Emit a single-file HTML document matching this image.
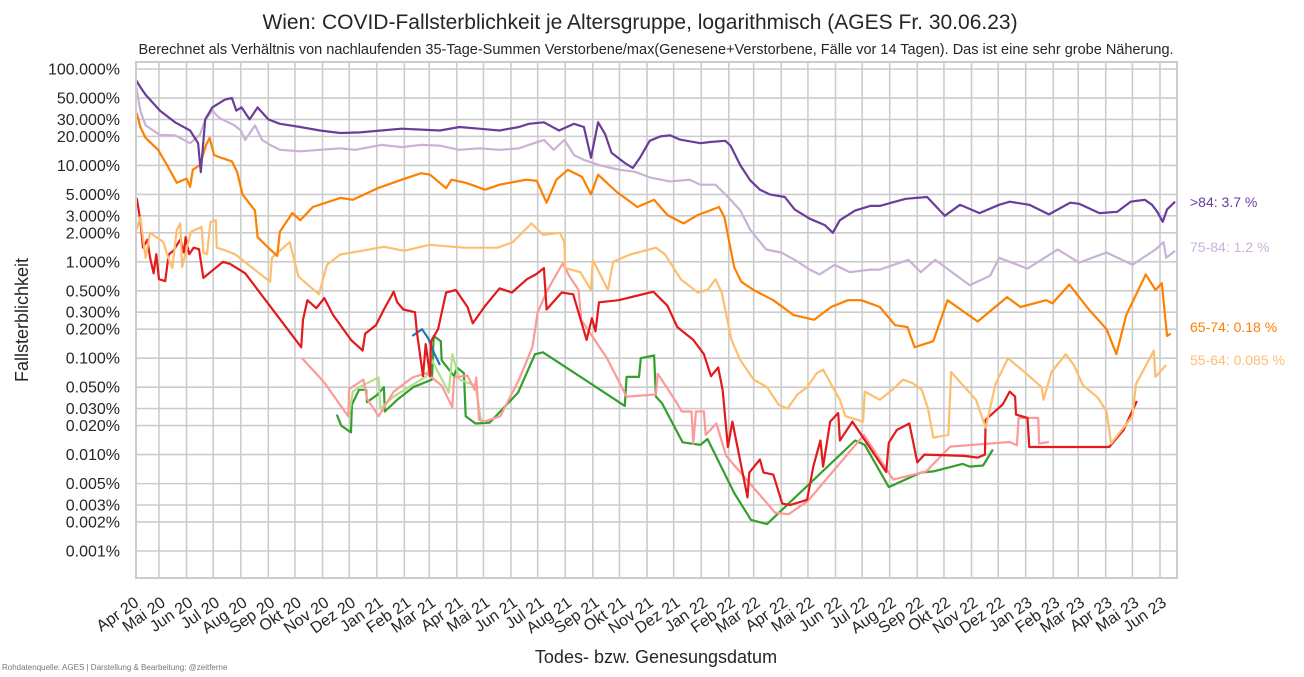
<!DOCTYPE html>
<html><head><meta charset="utf-8">
<style>
html,body{margin:0;padding:0;background:#fff;}
svg{display:block;font-family:"Liberation Sans",Arial,sans-serif;}
</style></head>
<body>
<svg id="chart" width="1304" height="677" viewBox="0 0 1304 677" xmlns="http://www.w3.org/2000/svg">
<rect x="0" y="0" width="1304" height="677" fill="#fff"/>
<text x="640" y="29" text-anchor="middle" font-size="21" fill="#262626">Wien: COVID-Fallsterblichkeit je Altersgruppe, logarithmisch (AGES Fr. 30.06.23)</text>
<text x="656" y="54" text-anchor="middle" font-size="14.5" fill="#262626">Berechnet als Verhältnis von nachlaufenden 35-Tage-Summen Verstorbene/max(Genesene+Verstorbene, Fälle vor 14 Tagen). Das ist eine sehr grobe Näherung.</text>
<g id="grid"></g>
<g id="yticks"></g>
<g id="xticks"></g>
<g id="series"></g>
<rect x="136" y="62" width="1041" height="516" fill="none" stroke="#cccccc" stroke-width="2"/>
<text transform="translate(28,320) rotate(-90)" text-anchor="middle" font-size="18" fill="#262626">Fallsterblichkeit</text>
<text x="656" y="663" text-anchor="middle" font-size="18" fill="#262626">Todes- bzw. Genesungsdatum</text>
<text x="2" y="670" font-size="8" fill="#777">Rohdatenquelle: AGES | Darstellung &amp; Bearbeitung: @zeitferne</text>
<g id="endlabels"></g>
</svg>
<script>
const yTicks = [100,50,30,20,10,5,3,2,1,0.5,0.3,0.2,0.1,0.05,0.03,0.02,0.01,0.005,0.003,0.002,0.001];
const monthLabels = ["Apr 20","Mai 20","Jun 20","Jul 20","Aug 20","Sep 20","Okt 20","Nov 20","Dez 20","Jan 21","Feb 21","Mar 21","Apr 21","Mai 21","Jun 21","Jul 21","Aug 21","Sep 21","Okt 21","Nov 21","Dez 21","Jan 22","Feb 22","Mar 22","Apr 22","Mai 22","Jun 22","Jul 22","Aug 22","Sep 22","Okt 22","Nov 22","Dez 22","Jan 23","Feb 23","Mar 23","Apr 23","Mai 23","Jun 23"];
const monthDates = ["2020-04-01","2020-05-01","2020-06-01","2020-07-01","2020-08-01","2020-09-01","2020-10-01","2020-11-01","2020-12-01","2021-01-01","2021-02-01","2021-03-01","2021-04-01","2021-05-01","2021-06-01","2021-07-01","2021-08-01","2021-09-01","2021-10-01","2021-11-01","2021-12-01","2022-01-01","2022-02-01","2022-03-01","2022-04-01","2022-05-01","2022-06-01","2022-07-01","2022-08-01","2022-09-01","2022-10-01","2022-11-01","2022-12-01","2023-01-01","2023-02-01","2023-03-01","2023-04-01","2023-05-01","2023-06-01"];

const d84 = ["2020-04-05","2020-04-10","2020-04-16","2020-05-02","2020-05-19","2020-06-05","2020-06-14","2020-06-17","2020-06-22","2020-06-30","2020-07-14","2020-07-22","2020-07-27","2020-08-02","2020-08-11","2020-08-20","2020-09-01","2020-09-14","2020-10-07","2020-10-29","2020-11-21","2020-12-13","2021-01-06","2021-01-29","2021-02-20","2021-03-13","2021-04-04","2021-04-26","2021-05-19","2021-06-10","2021-06-21","2021-07-08","2021-07-25","2021-08-11","2021-08-22","2021-08-30","2021-09-07","2021-09-15","2021-09-22","2021-10-07","2021-10-16","2021-10-24","2021-11-04","2021-11-16","2021-11-27","2021-12-08","2021-12-31","2022-01-11","2022-01-28","2022-02-03","2022-02-14","2022-02-25","2022-03-08","2022-03-19","2022-04-05","2022-04-16","2022-05-03","2022-05-20","2022-05-29","2022-06-06","2022-06-23","2022-07-10","2022-07-21","2022-08-07","2022-08-19","2022-09-12","2022-10-02","2022-10-19","2022-11-10","2022-12-02","2022-12-14","2023-01-05","2023-01-27","2023-02-20","2023-03-02","2023-03-25","2023-04-14","2023-04-29","2023-05-15","2023-05-23","2023-05-29","2023-06-04","2023-06-09","2023-06-18"];
const v84 = [77,65,54,37,28,23,17,8.5,30,40,48,50,37,40,30,40,30,27,25,23,21.7,22,23,24,23.5,23,25,24,23,25,27,28,23,27,25,12,28,21,13.5,10.6,9.4,12,18,20,20.5,18.5,17,17.5,18,16,10,7,5.6,5,4.7,3.5,2.8,2.4,2.0,2.7,3.4,3.8,3.8,4.2,4.5,4.7,3.0,3.9,3.2,3.9,4.2,3.9,3.1,4.1,4.0,3.2,3.3,4.2,4.4,3.9,3.3,2.6,3.5,4.2];

const d7584 = ["2020-04-05","2020-04-10","2020-04-16","2020-05-02","2020-05-19","2020-06-05","2020-06-16","2020-06-22","2020-06-30","2020-07-08","2020-07-25","2020-08-01","2020-08-06","2020-08-17","2020-08-25","2020-09-03","2020-09-14","2020-10-07","2020-10-29","2020-11-21","2020-12-08","2021-01-06","2021-01-29","2021-02-20","2021-03-13","2021-04-04","2021-04-26","2021-05-19","2021-06-10","2021-06-21","2021-07-08","2021-07-19","2021-07-31","2021-08-11","2021-08-22","2021-09-08","2021-10-01","2021-10-18","2021-11-04","2021-11-27","2021-12-19","2021-12-31","2022-01-17","2022-01-28","2022-02-03","2022-02-14","2022-02-25","2022-03-15","2022-04-01","2022-04-16","2022-05-03","2022-05-14","2022-05-31","2022-06-17","2022-07-10","2022-07-21","2022-08-22","2022-09-05","2022-09-21","2022-10-30","2022-11-22","2022-12-02","2023-01-03","2023-02-06","2023-03-02","2023-04-02","2023-05-01","2023-05-27","2023-06-05","2023-06-08","2023-06-18"];
const v7584 = [68,37,26,20.7,20.5,17,20.7,29.6,37,31,26,23,18.4,26,18.4,16.3,14.5,14,14.5,15,14.5,16.3,15.5,16.3,16,14.5,15,14.5,15,16.3,18.4,14.5,18.4,12.8,11.4,10.1,9,8.6,7.5,6.8,7.1,6.3,6.3,5.0,4.4,3.4,2.15,1.34,1.25,1.05,0.83,0.74,0.93,0.78,0.83,0.83,1.05,0.78,1.05,0.57,0.72,1.1,0.85,1.34,0.98,1.25,0.93,1.34,1.6,1.1,1.3];

const d6574 = ["2020-04-06","2020-04-10","2020-04-16","2020-04-30","2020-05-10","2020-05-21","2020-06-01","2020-06-05","2020-06-08","2020-06-16","2020-06-23","2020-06-27","2020-07-02","2020-07-11","2020-07-22","2020-07-28","2020-08-03","2020-08-17","2020-08-20","2020-08-31","2020-09-11","2020-09-14","2020-09-28","2020-10-07","2020-10-21","2020-11-21","2020-12-05","2021-01-02","2021-01-29","2021-02-20","2021-03-02","2021-03-20","2021-03-26","2021-04-11","2021-05-03","2021-05-19","2021-06-18","2021-06-30","2021-07-11","2021-07-22","2021-08-04","2021-08-20","2021-08-30","2021-09-07","2021-09-28","2021-10-21","2021-11-09","2021-11-24","2021-12-12","2021-12-28","2022-01-21","2022-01-27","2022-02-07","2022-02-15","2022-03-01","2022-03-23","2022-04-15","2022-05-08","2022-05-27","2022-06-15","2022-06-30","2022-07-21","2022-08-07","2022-08-21","2022-08-29","2022-09-19","2022-10-05","2022-11-08","2022-12-11","2022-12-26","2023-01-24","2023-01-31","2023-02-19","2023-03-13","2023-04-02","2023-04-13","2023-04-24","2023-05-16","2023-05-27","2023-06-03","2023-06-09","2023-06-13"];
const v6574 = [35,25,19.3,14.5,10.1,6.6,7.3,6.0,9.0,10.1,16.3,19.3,12.8,11.9,11,8.5,5.0,3.4,1.8,1.43,1.15,2.05,3.2,2.7,3.7,4.6,4.4,5.8,7.1,8.3,8.0,5.8,7.1,6.6,5.6,6.3,7.1,6.9,4.1,7.1,9.0,7.6,5.0,8.0,5.3,3.7,4.4,3.05,2.5,3.05,3.7,2.9,0.88,0.62,0.51,0.40,0.28,0.25,0.34,0.40,0.40,0.34,0.22,0.21,0.13,0.15,0.40,0.24,0.43,0.34,0.40,0.37,0.58,0.32,0.2,0.11,0.28,0.74,0.51,0.60,0.17,0.18];

const d5564 = ["2020-04-06","2020-04-10","2020-04-16","2020-04-21","2020-05-06","2020-05-10","2020-05-16","2020-05-21","2020-05-25","2020-05-27","2020-06-06","2020-06-18","2020-06-20","2020-06-24","2020-06-28","2020-07-04","2020-07-05","2020-07-16","2020-07-26","2020-09-03","2020-09-05","2020-09-25","2020-10-05","2020-10-28","2020-11-06","2020-11-21","2020-12-15","2021-01-09","2021-02-01","2021-03-01","2021-04-09","2021-05-17","2021-06-03","2021-06-24","2021-07-07","2021-07-26","2021-07-31","2021-08-01","2021-08-18","2021-08-30","2021-09-01","2021-09-18","2021-09-24","2021-10-13","2021-11-11","2021-11-21","2021-12-09","2021-12-28","2022-01-08","2022-01-17","2022-01-24","2022-02-04","2022-02-14","2022-03-01","2022-03-16","2022-03-29","2022-04-08","2022-04-19","2022-04-30","2022-05-11","2022-05-18","2022-05-29","2022-06-06","2022-06-12","2022-07-02","2022-07-04","2022-07-21","2022-08-04","2022-08-16","2022-08-27","2022-09-06","2022-09-13","2022-09-19","2022-10-06","2022-10-09","2022-11-06","2022-11-17","2022-11-28","2022-12-12","2023-01-05","2023-01-19","2023-01-21","2023-01-30","2023-02-15","2023-02-24","2023-03-06","2023-03-23","2023-04-02","2023-04-07","2023-05-01","2023-05-05","2023-05-25","2023-05-27","2023-06-08"];
const v5564 = [2.15,2.9,1.1,2.0,1.6,1.2,0.86,2.15,2.5,0.88,2.05,2.3,1.25,1.2,2.6,2.7,1.4,1.3,1.19,0.62,1.1,1.6,0.7,0.46,0.93,1.19,1.3,1.43,1.3,1.5,1.4,1.4,1.6,2.5,1.9,2.0,1.6,0.86,0.78,0.51,1.05,0.51,1.0,1.19,1.4,1.2,0.66,0.48,0.51,0.66,0.48,0.155,0.095,0.06,0.05,0.033,0.03,0.042,0.05,0.07,0.076,0.05,0.037,0.025,0.022,0.045,0.037,0.047,0.06,0.055,0.047,0.03,0.015,0.016,0.072,0.037,0.019,0.054,0.1,0.065,0.05,0.037,0.072,0.11,0.085,0.053,0.039,0.028,0.013,0.025,0.054,0.12,0.064,0.085];

const d4554 = ["2020-04-06","2020-04-10","2020-04-13","2020-04-18","2020-04-21","2020-04-25","2020-04-28","2020-05-01","2020-05-08","2020-05-12","2020-05-17","2020-05-25","2020-05-29","2020-05-31","2020-06-04","2020-06-09","2020-06-15","2020-06-20","2020-07-12","2020-07-20","2020-08-06","2020-10-08","2020-10-10","2020-10-15","2020-10-25","2020-11-03","2020-11-13","2020-12-03","2020-12-16","2020-12-19","2020-12-31","2021-01-09","2021-01-20","2021-01-24","2021-01-31","2021-02-13","2021-02-15","2021-02-22","2021-02-25","2021-03-02","2021-03-03","2021-03-11","2021-03-20","2021-03-31","2021-04-13","2021-04-19","2021-05-03","2021-05-19","2021-06-02","2021-06-19","2021-06-29","2021-07-08","2021-07-11","2021-07-28","2021-08-10","2021-08-25","2021-08-31","2021-09-04","2021-09-08","2021-09-30","2021-11-08","2021-11-24","2021-12-05","2021-12-23","2022-01-04","2022-01-12","2022-01-20","2022-01-25","2022-01-31","2022-02-05","2022-02-22","2022-02-24","2022-03-08","2022-03-12","2022-03-23","2022-04-02","2022-04-11","2022-04-30","2022-05-07","2022-05-15","2022-05-18","2022-05-26","2022-06-04","2022-06-06","2022-06-20","2022-07-28","2022-07-31","2022-08-09","2022-08-23","2022-08-26","2022-09-01","2022-09-09","2022-10-24","2022-11-08","2022-11-16","2022-11-17","2022-12-06","2022-12-14","2022-12-20","2022-12-21","2023-01-03","2023-01-05","2023-01-16","2023-04-05","2023-04-21","2023-05-06"];
const v4554 = [4.6,2.7,1.4,1.7,1.1,0.76,1.2,0.66,0.63,1.19,1.3,1.7,1.25,1.8,1.2,1.4,1.35,0.68,1.0,0.95,0.76,0.13,0.25,0.40,0.33,0.42,0.28,0.155,0.12,0.18,0.22,0.32,0.49,0.38,0.32,0.3,0.19,0.065,0.14,0.065,0.15,0.2,0.48,0.51,0.34,0.23,0.35,0.53,0.48,0.66,0.74,0.86,0.32,0.48,0.46,0.155,0.26,0.19,0.38,0.40,0.49,0.35,0.21,0.155,0.11,0.065,0.08,0.047,0.012,0.022,0.0036,0.0065,0.0089,0.0065,0.0062,0.0031,0.003,0.0034,0.0075,0.014,0.0075,0.022,0.027,0.014,0.022,0.0066,0.0133,0.018,0.021,0.0155,0.0083,0.01,0.0097,0.0093,0.01,0.023,0.033,0.045,0.04,0.026,0.024,0.012,0.012,0.012,0.018,0.036];

const d3544 = ["2020-10-09","2020-11-03","2020-11-26","2020-11-30","2020-12-01","2020-12-12","2020-12-17","2020-12-21","2021-01-03","2021-01-20","2021-02-10","2021-02-26","2021-03-15","2021-03-27","2021-03-29","2021-04-13","2021-04-21","2021-04-23","2021-04-26","2021-05-02","2021-05-20","2021-06-10","2021-06-25","2021-07-01","2021-07-12","2021-07-29","2021-08-06","2021-08-16","2021-08-19","2021-09-17","2021-10-09","2021-11-11","2021-11-13","2021-12-04","2021-12-10","2021-12-21","2021-12-23","2021-12-26","2022-01-04","2022-01-06","2022-01-18","2022-01-29","2022-03-25","2022-04-09","2022-05-01","2022-07-03","2022-08-05","2022-09-11","2022-10-08","2022-12-14","2022-12-22","2022-12-24","2023-01-15","2023-01-16","2023-01-27"];
const v3544 = [0.1,0.056,0.028,0.025,0.048,0.056,0.06,0.038,0.025,0.045,0.063,0.07,0.052,0.031,0.063,0.066,0.047,0.063,0.023,0.022,0.025,0.06,0.13,0.3,0.51,0.96,0.7,0.51,0.25,0.1,0.04,0.042,0.069,0.035,0.028,0.028,0.013,0.028,0.028,0.016,0.021,0.0097,0.0025,0.0024,0.0033,0.016,0.0055,0.0067,0.0121,0.0135,0.0125,0.024,0.024,0.013,0.0135];

const d2534 = ["2020-11-17","2020-11-22","2020-12-03","2020-12-04","2020-12-12","2020-12-20","2020-12-21","2021-01-02","2021-01-09","2021-01-10","2021-01-24","2021-02-11","2021-03-04","2021-03-06","2021-03-14","2021-03-15","2021-03-29","2021-04-01","2021-04-09","2021-04-11","2021-04-22","2021-05-08","2021-06-09","2021-06-28","2021-07-07","2021-10-07","2021-10-09","2021-10-23","2021-10-25","2021-11-09","2021-11-11","2021-11-18","2021-12-11","2021-12-31","2022-01-08","2022-02-07","2022-02-26","2022-03-16","2022-06-23","2022-07-04","2022-07-31","2022-09-05","2022-09-19","2022-10-22","2022-10-30","2022-11-14","2022-11-25"];
const v2534 = [0.026,0.02,0.017,0.033,0.047,0.047,0.035,0.042,0.05,0.028,0.037,0.05,0.06,0.17,0.15,0.095,0.065,0.08,0.07,0.025,0.021,0.0215,0.044,0.11,0.115,0.032,0.064,0.064,0.1,0.107,0.04,0.034,0.0134,0.0126,0.0145,0.004,0.0021,0.0019,0.014,0.0126,0.0046,0.0065,0.0067,0.008,0.0075,0.0077,0.0113];

const d1524 = ["2020-12-01","2020-12-05","2020-12-12","2021-01-03","2021-01-05","2021-01-20","2021-02-26","2021-03-04","2021-03-23","2021-03-27","2021-04-04","2021-04-22","2021-04-28"];
const v1524 = [0.026,0.045,0.05,0.063,0.03,0.04,0.065,0.095,0.044,0.11,0.06,0.052,0.023];

const d0514 = ["2021-02-10","2021-02-21","2021-02-28","2021-03-07","2021-03-13"];
const v0514 = [0.17,0.2,0.16,0.11,0.085];

const endLabels = [">84: 3.7 %","75-84: 1.2 %","65-74: 0.18 %","55-64: 0.085 %"];
const endValues = [3.7,1.2,0.18,0.085];

const NS="http://www.w3.org/2000/svg";
const X0=136, X1=1177, Y0=62, Y1=578;
const BASE=Date.UTC(2020,3,1);
function xScale(ds){const p=ds.split("-").map(Number);const days=(Date.UTC(p[0],p[1]-1,p[2])-BASE)/86400000;return 132.3+days*0.889;}
function yScale(v){return 69+(2-Math.log10(v))*96.4;}

const grid=document.getElementById("grid");
const yt=document.getElementById("yticks");
yTicks.forEach(function(t){
  const y=yScale(t);
  const l=document.createElementNS(NS,"line");
  l.setAttribute("x1",X0);l.setAttribute("x2",X1);l.setAttribute("y1",y);l.setAttribute("y2",y);
  l.setAttribute("stroke","#cccccc");l.setAttribute("stroke-width","1.6");
  
  
  grid.appendChild(l);
  const tx=document.createElementNS(NS,"text");
  tx.setAttribute("x",120);tx.setAttribute("y",y+5.5);tx.setAttribute("text-anchor","end");
  tx.setAttribute("font-size","16");tx.setAttribute("fill","#262626");
  tx.textContent=t.toFixed(3)+"%";
  
  
  yt.appendChild(tx);
});
const xt=document.getElementById("xticks");
monthDates.forEach(function(d,i){
  const x=xScale(d);
  if(x>X0+1 && x<X1-1){
    const l=document.createElementNS(NS,"line");
    l.setAttribute("x1",x);l.setAttribute("x2",x);l.setAttribute("y1",Y0);l.setAttribute("y2",Y1);
    l.setAttribute("stroke","#cccccc");l.setAttribute("stroke-width","1.6");
    
    
    grid.appendChild(l);
  }
  const tx=document.createElementNS(NS,"text");
  tx.setAttribute("transform","translate("+(x+4)+",600) rotate(-35)");
  tx.setAttribute("text-anchor","end");tx.setAttribute("font-size","16");tx.setAttribute("fill","#262626");
  tx.setAttribute("dy","6");
  tx.textContent=monthLabels[i];
  
  
  xt.appendChild(tx);
});

const seriesDefs=[
  {d:d2534,v:v2534,c:"#33a02c",n:"line-25-34"},
  {d:d1524,v:v1524,c:"#b2df8a",n:"line-15-24"},
  {d:d0514,v:v0514,c:"#1f78b4",n:"line-5-14"},
  {d:d3544,v:v3544,c:"#fb9a99",n:"line-35-44"},
  {d:d4554,v:v4554,c:"#e31a1c",n:"line-45-54"},
  {d:d5564,v:v5564,c:"#fdbf6f",n:"line-55-64"},
  {d:d6574,v:v6574,c:"#ff7f00",n:"line-65-74"},
  {d:d7584,v:v7584,c:"#cab2d6",n:"line-75-84"},
  {d:d84,v:v84,c:"#6a3d9a",n:"line-over-84"}
];
const sg=document.getElementById("series");
seriesDefs.forEach(function(s){
  let pts=s.d.map(function(d,i){return xScale(d).toFixed(1)+","+yScale(s.v[i]).toFixed(1);}).join(" ");
  const p=document.createElementNS(NS,"polyline");
  p.setAttribute("points",pts);p.setAttribute("fill","none");p.setAttribute("stroke",s.c);
  p.setAttribute("stroke-width","2.2");p.setAttribute("stroke-linejoin","round");
  
  
  sg.appendChild(p);
});

const el=document.getElementById("endlabels");
const endColors=["#6a3d9a","#cab2d6","#ff7f00","#fdbf6f"];
const endYs=[207,252,332,365];
endLabels.forEach(function(t,i){
  const tx=document.createElementNS(NS,"text");
  tx.setAttribute("x",1190);tx.setAttribute("y",endYs[i]);tx.setAttribute("font-size","14");
  tx.setAttribute("fill",endColors[i]);
  tx.textContent=t;
  
  
  el.appendChild(tx);
});
</script>
</body></html>
